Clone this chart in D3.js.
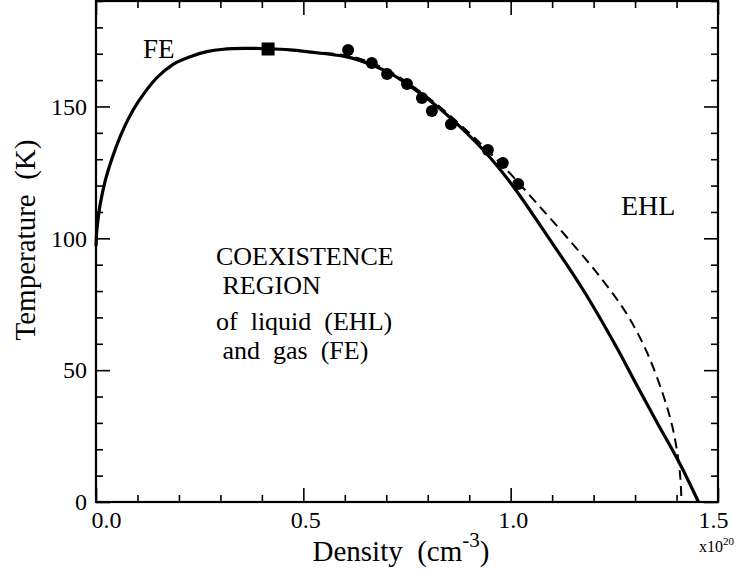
<!DOCTYPE html>
<html><head><meta charset="utf-8">
<script src="https://cdn.jsdelivr.net/npm/d3@7"></script>
<style>
html,body{margin:0;padding:0;background:#fff;}
text{font-family:"Liberation Serif","Times New Roman",serif;fill:#000;}
</style></head>
<body><svg id="c" width="742" height="576"></svg>
<script>
// ---- data ----
const xMajorTicks = [0, 0.5, 1.0, 1.5];
const xTickLabels = ["0.0", "0.5", "1.0", "1.5"];
const yMajorTicks = [0, 50, 100, 150];
const yTickLabels = ["0", "50", "100", "150"];

// solid coexistence curve (density 1e20 cm^-3, temperature K)
const solidX = [0, 0.002, 0.0055, 0.0096, 0.0217, 0.038, 0.058, 0.078, 0.102, 0.146, 0.186, 0.227, 0.267, 0.307, 0.36, 0.415, 0.468, 0.548, 0.605, 0.661, 0.717, 0.80, 0.856, 0.934, 1.0, 1.095, 1.175, 1.256, 1.30, 1.35, 1.408, 1.453];
const solidT = [97, 103, 108, 112.5, 121.5, 130, 138.5, 145.3, 151.8, 160.8, 166.0, 168.9, 170.8, 171.7, 172.0, 171.9, 171.5, 170.1, 168.8, 166.0, 161.9, 152.8, 145.5, 133.5, 121.0, 99.4, 80.4, 58.5, 45.5, 31.0, 14.5, 0];

// dashed curve
const dashX = [0.55, 0.62, 0.70, 0.80, 0.90, 0.99, 1.06, 1.135, 1.215, 1.28, 1.328, 1.368, 1.39, 1.402, 1.409, 1.412];
const dashT = [170.4, 168.8, 164.0, 153.5, 140.0, 126.0, 113.8, 100.5, 85.5, 71.3, 57.0, 40.5, 28.5, 18.5, 9.5, 0];

// experimental points
const dotX = [0.608, 0.665, 0.702, 0.750, 0.786, 0.810, 0.856, 0.945, 0.981, 1.018];
const dotT = [171.4, 166.5, 162.3, 158.5, 153.2, 148.3, 143.3, 133.5, 128.6, 120.6];

// critical point
const critX = [0.415];
const critT = [171.8];

// labels
const regionLines = ["COEXISTENCE", " REGION", "of  liquid  (EHL)", " and  gas  (FE)"];

// ---- drawing ----
const svg = d3.select("#c");
const x = d3.scaleLinear().domain([0, 1.5]).range([96, 718]);
const y = d3.scaleLinear().domain([0, 190]).range([502, 1]);

const xMinor = d3.range(0, 16).map(i => i / 10).filter(v => !xMajorTicks.some(m => Math.abs(m - v) < 1e-9));
const yMinor = d3.range(0, 20).map(i => i * 10).filter(v => !yMajorTicks.includes(v));

function styleAxis(g) {
  g.select(".domain").remove();
  g.selectAll(".tick line").attr("stroke", "#000").attr("stroke-width", 1.6);
  g.selectAll(".tick text").style("font-family", "'Liberation Serif', serif").style("font-size", "24px").attr("fill", "#000");
}

// bottom
svg.append("g").attr("transform", "translate(0,502)")
  .call(d3.axisBottom(x).tickValues(xMinor).tickSizeInner(-7).tickSizeOuter(0).tickFormat(""))
  .call(styleAxis);
svg.append("g").attr("transform", "translate(0,502)")
  .call(d3.axisBottom(x).tickValues(xMajorTicks).tickSizeInner(-14).tickSizeOuter(0).tickPadding(9)
    .tickFormat((d, i) => xTickLabels[i]))
  .call(styleAxis)
  .call(g => g.selectAll(".tick text").attr("dx", (d, i) => i === 0 ? 10 : (i === xMajorTicks.length - 1 ? -5 : 2)));
// top
svg.append("g").attr("transform", "translate(0,1)")
  .call(d3.axisTop(x).tickValues(xMinor).tickSizeInner(-7).tickSizeOuter(0).tickFormat(""))
  .call(styleAxis);
svg.append("g").attr("transform", "translate(0,1)")
  .call(d3.axisTop(x).tickValues(xMajorTicks).tickSizeInner(-14).tickSizeOuter(0).tickFormat(""))
  .call(styleAxis);
// left
svg.append("g").attr("transform", "translate(96,0)")
  .call(d3.axisLeft(y).tickValues(yMinor).tickSizeInner(-7).tickSizeOuter(0).tickFormat(""))
  .call(styleAxis);
svg.append("g").attr("transform", "translate(96,0)")
  .call(d3.axisLeft(y).tickValues(yMajorTicks).tickSizeInner(-14).tickSizeOuter(0).tickPadding(9)
    .tickFormat((d, i) => yTickLabels[i]))
  .call(styleAxis);
// right
svg.append("g").attr("transform", "translate(718,0)")
  .call(d3.axisRight(y).tickValues(yMinor).tickSizeInner(-7).tickSizeOuter(0).tickFormat(""))
  .call(styleAxis);
svg.append("g").attr("transform", "translate(718,0)")
  .call(d3.axisRight(y).tickValues(yMajorTicks).tickSizeInner(-14).tickSizeOuter(0).tickFormat(""))
  .call(styleAxis);

// frame
svg.append("rect").attr("x", x(0)).attr("y", y(190))
  .attr("width", x(1.5) - x(0)).attr("height", y(0) - y(190))
  .attr("fill", "none").attr("stroke", "#000").attr("stroke-width", 2.2);

// curves
const line = d3.line().x(d => x(d[0])).y(d => y(d[1])).curve(d3.curveCatmullRom.alpha(0.5));
svg.append("path").datum(dashX.map((v, i) => [v, dashT[i]]))
  .attr("d", line).attr("fill", "none").attr("stroke", "#000")
  .attr("stroke-width", 2).attr("stroke-dasharray", "10,6");
svg.append("path").datum(solidX.map((v, i) => [v, solidT[i]]))
  .attr("d", line).attr("fill", "none").attr("stroke", "#000")
  .attr("stroke-width", 3.2).attr("stroke-linejoin", "round");

// points
svg.selectAll("circle.pt").data(dotX.map((v, i) => [v, dotT[i]])).enter()
  .append("circle").attr("class", "pt")
  .attr("cx", d => x(d[0])).attr("cy", d => y(d[1])).attr("r", 6).attr("fill", "#000");
svg.selectAll("rect.crit").data(critX.map((v, i) => [v, critT[i]])).enter()
  .append("rect").attr("class", "crit")
  .attr("x", d => x(d[0]) - 6.5).attr("y", d => y(d[1]) - 6.5)
  .attr("width", 13).attr("height", 13).attr("fill", "#000");

// annotations
svg.append("text").attr("x", 143).attr("y", 58).style("font-size", "27px").text("FE");
svg.append("text").attr("x", 621).attr("y", 215).style("font-size", "28px").text("EHL");
const regionY = [265, 294, 330, 359];
regionLines.forEach((t, i) => {
  svg.append("text").attr("x", 216).attr("y", regionY[i]).style("font-size", "26px")
    .attr("xml:space", "preserve").style("white-space", "pre").text(t);
});

// axis titles
const yt = svg.append("text").attr("transform", "translate(35,240) rotate(-90)")
  .attr("text-anchor", "middle").style("font-size", "29px").style("white-space", "pre");
yt.text("Temperature  (K)");

const xt = svg.append("text").attr("x", 401).attr("y", 561).attr("text-anchor", "middle")
  .style("font-size", "29px").style("white-space", "pre");
xt.append("tspan").text("Density  (cm");
xt.append("tspan").attr("dy", -14).style("font-size", "21px").text("-3");
xt.append("tspan").attr("dy", 14).text(")");

const xm = svg.append("text").attr("x", 699).attr("y", 552).style("font-size", "16px");
xm.append("tspan").text("x10");
xm.append("tspan").attr("dy", -7).style("font-size", "11px").text("20");
</script></body></html>
